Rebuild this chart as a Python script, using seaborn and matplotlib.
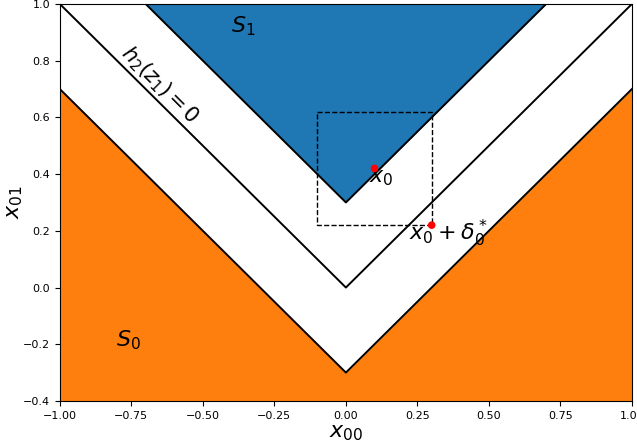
import numpy as np
import pandas as pd
import matplotlib
matplotlib.use("Agg")
import matplotlib.pyplot as plt
import seaborn as sns

# V-shaped boundaries y = |x| + offset
xs = [-1.0, 0.0, 1.0]
off_s1 = 0.3      # upper region S_1 (above)
off_mid = 0.0     # h2(z1) = 0
off_s0 = -0.3     # lower region S_0 (below)

# point and perturbed point
x0 = [0.1, 0.42]
x0_adv = [0.3, 0.22]
eps = 0.2

xlim = [-1.0, 1.0]
ylim = [-0.4, 1.0]

xa = np.array(xs)
df = pd.DataFrame({
    "x": xs * 3,
    "y": list(np.abs(xa) + off_s1) + list(np.abs(xa) + off_mid) + list(np.abs(xa) + off_s0),
    "line": ["s1"] * 3 + ["mid"] * 3 + ["s0"] * 3,
})

fig, ax = plt.subplots(figsize=(6.37, 4.45), dpi=100)
plt.subplots_adjust(left=0.094, right=0.992, top=0.991, bottom=0.099)

ax.fill_between(xa, np.abs(xa) + off_s1, ylim[1], color="#1f77b4", lw=0)
ax.fill_between(xa, ylim[0], np.abs(xa) + off_s0, color="#ff7f0e", lw=0)
sns.lineplot(data=df, x="x", y="y", units="line", estimator=None,
             color="black", lw=1.4, ax=ax, legend=False)

# dashed box around x0
bx = [x0[0] - eps, x0[0] + eps, x0[0] + eps, x0[0] - eps, x0[0] - eps]
by = [x0[1] + eps, x0[1] + eps, x0[1] - eps, x0[1] - eps, x0[1] + eps]
ax.plot(bx, by, "k--", lw=1)

pts = pd.DataFrame({"x": [x0[0], x0_adv[0]], "y": [x0[1], x0_adv[1]]})
sns.scatterplot(data=pts, x="x", y="y", color="red", s=30, edgecolor="none",
                ax=ax, zorder=5)

ax.text(-0.36, 0.92, r"$S_1$", fontsize=16, ha="center", va="center")
ax.text(-0.76, -0.185, r"$S_0$", fontsize=16, ha="center", va="center")
ax.text(-0.65, 0.715, r"$h_2(z_1) = 0$", fontsize=15, ha="center", va="center",
        rotation=-45, rotation_mode="anchor")
ax.text(x0[0] + 0.025, x0[1] - 0.035, r"$x_0$", fontsize=16, ha="center", va="center")
ax.text(x0_adv[0] + 0.06, x0_adv[1] - 0.03, r"$x_0 + \delta_0^*$", fontsize=16,
        ha="center", va="center")

ax.set_xlim(xlim)
ax.set_ylim(ylim)
ax.set_xlabel(r"$x_{00}$", fontsize=16, labelpad=2)
ax.set_ylabel(r"$x_{01}$", fontsize=16)
ax.yaxis.set_label_coords(-0.061, 0.5)
ax.tick_params(labelsize=8, length=3.5)

plt.savefig("out.png", dpi=100)
